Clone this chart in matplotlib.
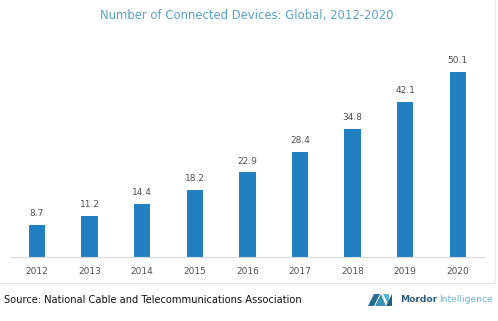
import matplotlib
matplotlib.use("Agg")
import matplotlib.pyplot as plt
from matplotlib.patches import Polygon
from matplotlib.lines import Line2D

years = ["2012", "2013", "2014", "2015", "2016", "2017", "2018", "2019", "2020"]
devices = [8.7, 11.2, 14.4, 18.2, 22.9, 28.4, 34.8, 42.1, 50.1]
value_labels = ["8.7", "11.2", "14.4", "18.2", "22.9", "28.4", "34.8", "42.1", "50.1"]

W, H = 498, 321
fig = plt.figure(figsize=(W / 100, H / 100), dpi=100)
fig.patch.set_facecolor("white")

left, right, bottom, top = 10.7, 484, 257, 55
ax = fig.add_axes([left / W, (H - bottom) / H, (right - left) / W, (bottom - top) / H])
x = list(range(len(years)))
ax.bar(x, devices, width=0.31, color="#2180c2")
ax.set_xlim(-0.5, len(years) - 0.5)
ax.set_ylim(0, (bottom - top) / 3.69)
for xi, v, lab in zip(x, devices, value_labels):
    ax.annotate(lab, (xi, v), xytext=(0, 5), textcoords="offset points",
                ha="center", va="bottom", fontsize=6.5, color="#505050")
ax.set_xticks(x)
ax.set_xticklabels(years, fontsize=6.5, color="#505050")
ax.tick_params(axis="x", length=0, pad=7)
ax.set_yticks([])
for s in ["left", "right", "top"]:
    ax.spines[s].set_visible(False)
ax.spines["bottom"].set_color("#d9d9d9")
ax.spines["bottom"].set_linewidth(0.8)

fig.text(247 / W, 1 - 15 / H, "Number of Connected Devices: Global, 2012-2020",
         ha="center", va="center", fontsize=8.4, color="#5aa2c4")

fig.add_artist(Line2D([0, 495 / W], [1 - 283 / H, 1 - 283 / H], transform=fig.transFigure,
                      color="#e0e0e0", lw=0.8))
fig.add_artist(Line2D([495 / W, 495 / W], [1 - 283 / H, 1], transform=fig.transFigure,
                      color="#e8e8e8", lw=0.8))

fig.text(4 / W, 1 - 300 / H, "Source: National Cable and Telecommunications Association",
         ha="left", va="center", fontsize=7.1, color="#111111")

def P(px, py):
    return (px / W, 1 - py / H)

icon = [
    ([P(368, 306), P(374, 294), P(380, 294), P(374, 306)], "#2a6e8f"),
    ([P(375, 306), P(381, 294), P(386, 306)], "#3a8fb5"),
    ([P(383, 294), P(389, 294), P(389, 306)], "#5bb3d6"),
    ([P(386, 306), P(392, 294), P(392, 306)], "#1f5f80"),
]
for pts, c in icon:
    fig.add_artist(Polygon(pts, closed=True, transform=fig.transFigure, color=c, lw=0))
t1 = fig.text(400 / W, 1 - 300 / H, "Mordor", ha="left", va="center", fontsize=6.6,
              color="#2f5f7f", fontweight="bold")
fig.canvas.draw()
bb = t1.get_window_extent()
fig.text((bb.x1 + 1.5) / W, 1 - 300 / H, "Intelligence", ha="left", va="center", fontsize=6.6,
         color="#6fb0d0")

fig.savefig("out.png", dpi=100, facecolor="white")
